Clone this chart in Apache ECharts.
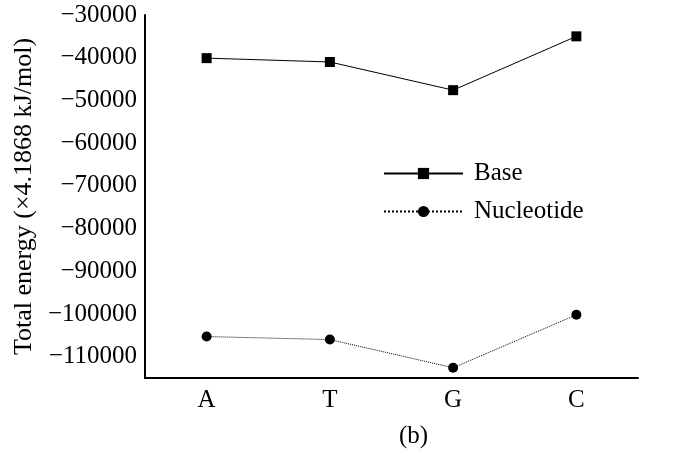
<!DOCTYPE html>
<html>
<head>
<meta charset="utf-8">
<script src="https://cdn.jsdelivr.net/npm/echarts@6/dist/echarts.min.js"></script>
<style>
  html, body { margin: 0; padding: 0; background: #fff; }
  #chart { width: 690px; height: 461px; }
</style>
</head>
<body>
<div id="chart"></div>
<script>
// categories and values
var categories = ['A', 'T', 'G', 'C']
var baseValues = [-40100, -41000, -47600, -35000]
var nucleotideValues = [-105300, -106000, -112600, -100200]

var font = '"Liberation Serif", "DejaVu Serif", serif'

function minus (v) {
  return String(v).replace('-', '\u2212')
}

var chartDom = echarts.init(document.getElementById('chart'))

var options = {
  backgroundColor: '#fff',
  animation: false,
  grid: { left: 145, right: 52, top: 15, bottom: 83 },
  graphic: [{
    type: 'text',
    left: 399,
    top: 424,
    style: { text: '(b)', font: '25px ' + font, fill: '#000' }
  }],
  legend: {
    orient: 'vertical',
    left: 378,
    top: 156,
    itemWidth: 79,
    itemHeight: 14,
    itemGap: 13,
    lineStyle: { width: 2 },
    textStyle: { fontFamily: font, fontSize: 25, color: '#000', padding: [0, 0, 0, 6] },
    data: ['Base', 'Nucleotide']
  },
  xAxis: {
    type: 'category',
    data: categories,
    boundaryGap: true,
    axisLine: { lineStyle: { color: '#000', width: 2 } },
    axisTick: { inside: true, alignWithLabel: true, length: 8, lineStyle: { color: '#000', width: 1.5 } },
    axisLabel: { fontFamily: font, fontSize: 25, color: '#000', margin: 10 },
    splitLine: { show: false }
  },
  yAxis: {
    type: 'value',
    min: -115000,
    max: -30000,
    interval: 5000,
    name: 'Total energy (\u00d74.1868 kJ/mol)',
    nameLocation: 'middle',
    nameGap: 107,
    nameTextStyle: { fontFamily: font, fontSize: 26, color: '#000' },
    axisLine: { show: true, lineStyle: { color: '#000', width: 2 } },
    axisTick: { inside: true, length: 8, lineStyle: { color: '#000', width: 1.5 } },
    axisLabel: {
      fontFamily: font, fontSize: 25, color: '#000', margin: 8,
      formatter: function (v) { return v % 10000 === 0 ? minus(v) : '' }
    },
    splitLine: { show: false }
  },
  series: [
    {
      name: 'Base',
      type: 'line',
      data: baseValues,
      symbol: 'rect',
      symbolSize: 10,
      itemStyle: { color: '#000' },
      lineStyle: { color: '#000', width: 1 }
    },
    {
      name: 'Nucleotide',
      type: 'line',
      data: nucleotideValues,
      symbol: 'circle',
      symbolSize: 10,
      itemStyle: { color: '#000' },
      lineStyle: { color: '#000', width: 1, type: 'dotted' }
    }
  ]
}

chartDom.setOption(options)
</script>
</body>
</html>
